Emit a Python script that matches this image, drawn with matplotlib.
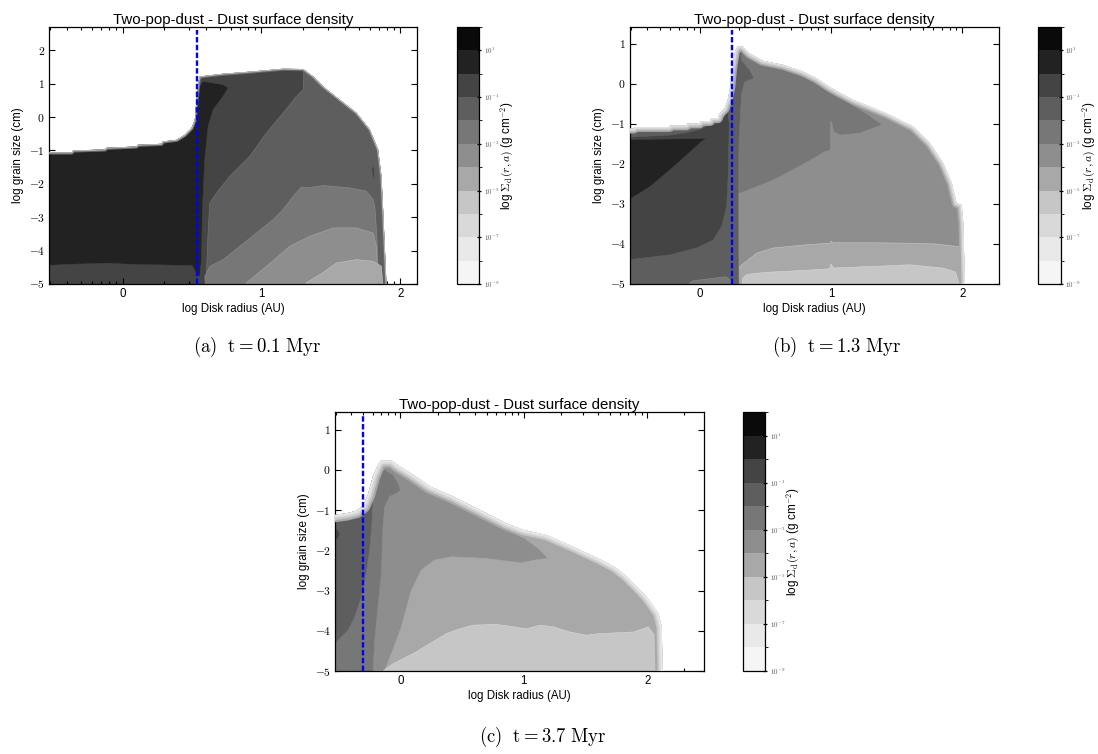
import numpy as np
import matplotlib
matplotlib.use("Agg")
import matplotlib.pyplot as plt
from matplotlib.colors import ListedColormap, BoundaryNorm
from matplotlib.cm import ScalarMappable
from matplotlib.patches import Polygon
from matplotlib.ticker import FixedLocator

plt.rcParams['font.family'] = ['Liberation Sans', 'DejaVu Sans']
plt.rcParams['mathtext.fontset'] = 'cm'

# ---------------- colour scale ----------------
LEVELS = [1e-9, 1e-8, 1e-7, 1e-6, 1e-5, 1e-4, 1e-3, 1e-2, 1e-1, 1e0, 1e1, 1e2]
BAND_COLORS = ['#f5f5f5', '#e9e9e9', '#d9d9d9', '#c6c6c6', '#a8a8a8', '#8e8e8e',
               '#777777', '#5e5e5e', '#444444', '#222222', '#0a0a0a']
CBAR_TICKS = [1e-9, 1e-7, 1e-5, 1e-3, 1e-1, 1e1]
CBAR_TICKLABELS = [r'$10^{-9}$', r'$10^{-7}$', r'$10^{-5}$', r'$10^{-3}$', r'$10^{-1}$', r'$10^{1}$']

XTICKS = [0, 1, 2]
XTICKLABELS = ['0', '1', '2']
MINOR_RADII = [0.3, 0.4, 0.5, 0.6, 0.7, 0.8, 0.9, 2, 3, 4, 5, 6, 7, 8, 9,
               20, 30, 40, 50, 60, 70, 80, 90, 200]
A_YTICKS = [-5, -4, -3, -2, -1, 0, 1, 2]
A_YTICKLABELS = [r'$-5$', r'$-4$', r'$-3$', r'$-2$', r'$-1$', r'$0$', r'$1$', r'$2$']
BC_YTICKS = [-5, -4, -3, -2, -1, 0, 1]
BC_YTICKLABELS = [r'$-5$', r'$-4$', r'$-3$', r'$-2$', r'$-1$', r'$0$', r'$1$']

CAPTIONS = [r'$\mathrm{(a)}\ \ \mathrm{t}=0.1\ \mathrm{Myr}$',
            r'$\mathrm{(b)}\ \ \mathrm{t}=1.3\ \mathrm{Myr}$',
            r'$\mathrm{(c)}\ \ \mathrm{t}=3.7\ \mathrm{Myr}$']

# ---------------- panel (a): t = 0.1 Myr ----------------
A_RSNOW = 0.535
A_ENV_SIGMA = 0.3
A_ENV_X = [-0.65, -0.528, -0.367, -0.355, -0.127, -0.115, 0.10, 0.11, 0.28, 0.29, 0.39, 0.448,
           0.496, 0.52, 0.532, 0.547, 0.556, 0.724, 0.94, 1.156, 1.30, 1.372, 1.444, 1.564,
           1.684, 1.78, 1.84, 1.864, 1.876, 1.888, 1.90]
A_ENV_Y = [-1.06, -1.06, -1.06, -1.00, -0.97, -0.92, -0.88, -0.83, -0.80, -0.73, -0.68, -0.53,
           -0.33, -0.08, 0.52, 1.07, 1.22, 1.30, 1.37, 1.45, 1.44, 1.22, 0.92, 0.52,
           0.13, -0.37, -0.97, -1.77, -2.77, -3.87, -5.0]

A_R8_SIGMA = 3e-2
A_R8_X = [0.60, 0.605, 0.615, 0.628, 0.676, 0.772, 0.916, 1.036, 1.156, 1.252, 1.30, 1.31, 2.5, 2.5]
A_R8_Y = [-5.3, -4.6, -3.5, -2.57, -2.27, -1.77, -1.17, -0.473, 0.126, 0.623, 0.823, 2.0, 2.0, -5.3]

A_R7_SIGMA = 3e-3
A_R7_X = [0.60, 0.592, 0.628, 0.724, 0.844, 0.964, 1.084, 1.156, 1.228, 1.288, 1.324, 1.444,
          1.636, 1.756, 1.804, 1.816, 1.83, 1.84, 1.85]
A_R7_Y = [-5.3, -4.77, -4.47, -4.27, -3.87, -3.47, -3.07, -2.77, -2.37, -2.09, -2.12, -2.05,
          -2.12, -2.22, -2.47, -2.67, -3.5, -4.5, -5.3]

A_R6_SIGMA = 3e-4
A_R6_X = [0.85, 0.892, 1.036, 1.204, 1.348, 1.516, 1.684, 1.804, 1.828, 1.835, 1.85]
A_R6_Y = [-5.3, -4.96, -4.47, -3.87, -3.57, -3.32, -3.32, -3.47, -3.87, -4.5, -5.3]

A_R5_SIGMA = 3e-5
A_R5_X = [1.30, 1.324, 1.444, 1.54, 1.684, 1.804, 1.864, 1.87, 1.88]
A_R5_Y = [-5.3, -4.96, -4.66, -4.37, -4.27, -4.32, -4.47, -4.8, -5.3]

A_R9_SIGMA = 0.3
A_R9_X = [1.795, 1.805, 1.815, 1.812, 1.800]
A_R9_Y = [-1.55, -1.45, -1.60, -1.85, -1.75]

A_R10_SIGMA = 3.0
A_R10_X = [-0.65, -0.3, -0.1, 0.1, 0.3, 0.45, 0.50, 0.54, 0.556, 0.568, 0.575, 0.592, 0.616,
           0.652, 0.724, 0.76, 0.724, 0.628, 0.58, 0.556, 0.53, -0.65]
A_R10_Y = [-4.46, -4.40, -4.38, -4.42, -4.43, -4.45, -4.45, -4.75, -4.77, -4.27, -2.77, -1.27,
           -0.275, 0.225, 0.623, 0.874, 0.973, 1.04, 1.07, 0.95, 2.0, 2.0]

A_STROKES = [(3.0, '#686868'), (1.6, '#9a9a9a'), (0.7, '#cfcfcf')]

# ---------------- panel (b): t = 1.3 Myr ----------------
B_RSNOW = 0.244
B_ENV_SIGMA = 3e-4
B_ENV_X = [-0.65, -0.50, -0.49, -0.23, -0.22, -0.10, -0.09, 0.00, 0.01, 0.08, 0.09, 0.14, 0.15,
           0.19, 0.215, 0.235, 0.25, 0.27, 0.29, 0.33, 0.38, 0.48, 0.64, 0.79, 0.89, 0.99, 1.043,
           1.17, 1.424, 1.627, 1.754, 1.855, 1.92, 1.957, 1.995, 2.008, 2.02]
B_ENV_Y = [-1.12, -1.12, -1.08, -1.08, -1.04, -1.04, -0.99, -0.99, -0.93, -0.93, -0.86, -0.86,
           -0.76, -0.62, -0.40, -0.07, 0.43, 0.80, 0.94, 0.925, 0.76, 0.576, 0.47, 0.30, 0.137,
           -0.08, -0.18, -0.40, -0.74, -1.07, -1.48, -1.98, -2.48, -2.98, -3.02, -3.48, -5.0]

B_R5_SIGMA = 3e-5
B_R5_X = [0.29, 0.29, 0.307, 0.434, 0.56, 0.815, 0.995, 1.0, 1.02, 1.3, 1.577, 1.8, 1.957, 2.5, 2.5]
B_R5_Y = [-5.3, -4.75, -4.56, -4.23, -4.10, -4.02, -3.98, -3.93, -3.97, -3.97, -3.98, -4.0, -4.06,
          -4.06, -5.3]

B_R4_SIGMA = 3e-6
B_R4_X = [0.32, 0.33, 0.36, 0.5, 0.8, 0.99, 1.0, 1.02, 1.4, 1.6, 1.85, 1.95, 2.0]
B_R4_Y = [-5.3, -4.85, -4.76, -4.71, -4.66, -4.62, -4.5, -4.6, -4.55, -4.52, -4.6, -4.7, -5.3]

B_R7_SIGMA = 3e-3
B_R7_X = [0.29, 0.29, 0.307, 0.434, 0.55, 0.663, 0.78, 0.891, 0.95, 0.995, 0.997, 1.005, 1.02,
          1.069, 1.22, 1.39, 1.27, 1.145, 1.043, 1.0, 1.0]
B_R7_Y = [2.0, -2.73, -2.73, -2.57, -2.42, -2.23, -2.02, -1.82, -1.70, -1.65, -0.945, -0.945,
          -1.2, -1.28, -1.23, -1.02, -0.74, -0.49, -0.24, 0.5, 2.0]

B_R8_SIGMA = 3e-2
B_R8_X = [-0.65, -0.65, 0.30, 0.32, 0.383, 0.414, 0.345, 0.32, 0.30, 0.295, 0.30]
B_R8_Y = [-5.3, 2.0, 2.0, 0.59, 0.34, 0.137, 0.05, -0.24, -1.40, -3.07, -5.3]

B_R7B_SIGMA = 3e-3
B_R7B_X = [-0.2, -0.05, 0.1, 0.2, 0.235, 0.24]
B_R7B_Y = [-5.3, -4.92, -4.86, -4.82, -4.9, -5.3]

B_R9_SIGMA = 0.3
B_R9_X = [-0.65, -0.226, -0.023, 0.104, 0.168, 0.206, 0.218, 0.226, 0.215, 0.206, 0.168, 0.104,
          0.002, -0.099, -0.226, -0.531, -0.65]
B_R9_Y = [-4.44, -4.27, -4.10, -3.90, -3.56, -3.07, -2.23, -0.985, -0.70, -0.57, -0.82, -0.985,
          -1.135, -1.22, -1.28, -1.33, -1.33]

B_R10_SIGMA = 3.0
B_R10_X = [-0.65, 0.053, 0.015, -0.099, -0.226, -0.379, -0.531, -0.65]
B_R10_Y = [-1.40, -1.36, -1.44, -1.78, -2.15, -2.57, -2.88, -2.95]

B_STROKES = [(7.0, '#a8a8a8'), (4.6, '#c6c6c6'), (2.6, '#d9d9d9'), (1.0, '#e9e9e9')]

# ---------------- panel (c): t = 3.7 Myr ----------------
C_RSNOW = -0.306
C_ENV_SIGMA = 3e-5
C_ENV_X = [-0.65, -0.533, -0.438, -0.357, -0.303, -0.263, -0.222, -0.182, -0.154, -0.141, -0.073,
           -0.006, 0.102, 0.238, 0.427, 0.643, 0.86, 0.994, 1.184, 1.40, 1.616, 1.74, 1.833, 1.93,
           1.995, 2.09, 2.117, 2.125]
C_ENV_Y = [-1.12, -1.12, -1.08, -1.02, -0.895, -0.62, -0.16, 0.127, 0.235, 0.235, 0.235, 0.085,
           -0.12, -0.41, -0.66, -0.995, -1.33, -1.49, -1.62, -1.91, -2.22, -2.42, -2.65, -2.95,
           -3.16, -3.57, -3.9, -5.0]

C_R6_SIGMA = 3e-4
C_R6_X = [-0.3, -0.222, -0.127, -0.073, 0.008, 0.089, 0.17, 0.278, 0.414, 0.684, 0.981, 1.089,
          1.197, 1.116, 1.008, 0.927, 0.9, -0.3]
C_R6_Y = [-5.3, -4.99, -4.985, -4.57, -3.9, -2.99, -2.49, -2.24, -2.16, -2.20, -2.31, -2.24,
          -2.20, -1.95, -1.70, -1.58, 2.0, 2.0]

C_R4_SIGMA = 3e-6
C_R4_X = [-0.2, -0.141, -0.06, 0.102, 0.238, 0.373, 0.481, 0.589, 0.779, 0.913, 1.022, 1.13,
          1.238, 1.373, 1.508, 1.616, 1.887, 1.968, 2.008, 2.054, 2.07, 2.08, 2.10, 2.5, 2.5]
C_R4_Y = [-5.3, -5.0, -4.82, -4.57, -4.32, -4.07, -3.95, -3.86, -3.84, -3.9, -3.95, -3.86,
          -3.9, -4.03, -4.11, -4.07, -4.03, -3.95, -3.9, -4.09, -4.15, -3.82, -3.49, -3.49, -5.3]

C_R7_SIGMA = 3e-3
C_R7_X = [-0.65, -0.65, -0.21, -0.19, -0.127, -0.06, -0.019, 0.002, -0.032, -0.087, -0.127,
          -0.141, -0.154, -0.182, -0.208, -0.222, -0.222]
C_R7_Y = [-5.3, 2.0, 2.0, 0.02, 0.0, -0.12, -0.33, -0.50, -0.58, -0.66, -0.91, -1.41, -2.57,
          -3.41, -4.24, -4.99, -5.3]

C_R8_SIGMA = 3e-2
C_R8_X = [-0.65, -0.533, -0.506, -0.425, -0.37, -0.316, -0.276, -0.249, -0.23, -0.214, -0.21, -0.65]
C_R8_Y = [-4.34, -4.34, -4.24, -3.99, -3.66, -3.16, -2.57, -1.99, -1.33, -0.414, 2.0, 2.0]

C_R9_SIGMA = 0.3
C_R9_X = [-0.65, -0.51, -0.49, -0.51, -0.65]
C_R9_Y = [-1.42, -1.48, -1.60, -1.72, -1.76]

C_STROKES = [(10.5, '#a8a8a8'), (7.5, '#c6c6c6'), (4.8, '#d9d9d9'), (2.4, '#e9e9e9')]

# ---------------- drawing ----------------
cmap = ListedColormap(BAND_COLORS)
norm = BoundaryNorm(LEVELS, ncolors=len(BAND_COLORS))
sm = ScalarMappable(norm=norm, cmap=cmap)
sm.set_array([])

fig = plt.figure(figsize=(10.98, 7.54), dpi=100)


def draw_panel(ax_rect, cax_rect, env_x, env_y, env_sigma, regions, strokes, rsnow,
               xlim, ylim, yticks, yticklabels):
    ax = fig.add_axes(ax_rect)
    cax = fig.add_axes(cax_rect)
    bottom = -5.3
    poly = np.column_stack([list(env_x) + [env_x[-1], env_x[0]],
                            list(env_y) + [bottom, bottom]])
    env = Polygon(poly, closed=True, facecolor=sm.to_rgba(env_sigma),
                  edgecolor='none', zorder=1)
    ax.add_patch(env)
    for sigma, xs, ys in regions:
        p = Polygon(np.column_stack([xs, ys]), closed=True,
                    facecolor=sm.to_rgba(sigma), edgecolor=sm.to_rgba(sigma / 10.0),
                    lw=0.4, zorder=2)
        ax.add_patch(p)
        p.set_clip_path(env)
    for lw, c in strokes:
        ln, = ax.plot(env_x, env_y, color=c, lw=lw, zorder=3,
                      solid_joinstyle='round', solid_capstyle='butt')
        ln.set_clip_path(env)
    ax.axvline(rsnow, ymin=0, ymax=0.988, color='#0000ff', lw=1.7,
               ls=(0, (2.3, 1.0)), zorder=4)

    ax.set_xlim(*xlim)
    ax.set_ylim(*ylim)
    ax.set_xticks(XTICKS)
    ax.set_xticklabels(XTICKLABELS, fontsize=8.3)
    minor = [v for v in np.log10(MINOR_RADII) if xlim[0] < v < xlim[1]]
    ax.xaxis.set_minor_locator(FixedLocator(minor))
    ax.set_yticks(yticks)
    ax.set_yticklabels(yticklabels, fontsize=8.3)
    ax.tick_params(which='both', direction='in', top=True, right=True, width=0.8)
    ax.tick_params(which='major', length=4, pad=3)
    ax.tick_params(which='minor', length=2)
    for s in ax.spines.values():
        s.set_linewidth(0.9)
    ax.set_title('Two-pop-dust - Dust surface density', fontsize=10.8, pad=2)
    ax.set_xlabel('log Disk radius (AU)', fontsize=8.3, labelpad=2)
    ax.set_ylabel('log grain size (cm)', fontsize=8.4, labelpad=3)

    cb = fig.colorbar(sm, cax=cax, ticks=CBAR_TICKS)
    cb.ax.set_yticklabels(CBAR_TICKLABELS, fontsize=5, color='#555555')
    cb.ax.tick_params(length=2.5, width=0.9, direction='inout', pad=2)
    cb.outline.set_linewidth(0.9)
    cb.set_label(r'log $\Sigma_{\rm d}(r,a)$ (g cm$^{-2}$)', fontsize=8.5, labelpad=0)
    return ax


W, H = 1098.0, 754.0


def rect(left, right, top, bottom):
    return [left / W, 1 - bottom / H, (right - left) / W, (bottom - top) / H]


A_REGIONS = [(A_R8_SIGMA, A_R8_X, A_R8_Y), (A_R7_SIGMA, A_R7_X, A_R7_Y),
             (A_R6_SIGMA, A_R6_X, A_R6_Y), (A_R5_SIGMA, A_R5_X, A_R5_Y),
             (A_R9_SIGMA, A_R9_X, A_R9_Y), (A_R10_SIGMA, A_R10_X, A_R10_Y)]
B_REGIONS = [(B_R5_SIGMA, B_R5_X, B_R5_Y), (B_R4_SIGMA, B_R4_X, B_R4_Y),
             (B_R7_SIGMA, B_R7_X, B_R7_Y), (B_R8_SIGMA, B_R8_X, B_R8_Y),
             (B_R7B_SIGMA, B_R7B_X, B_R7B_Y), (B_R9_SIGMA, B_R9_X, B_R9_Y),
             (B_R10_SIGMA, B_R10_X, B_R10_Y)]
C_REGIONS = [(C_R6_SIGMA, C_R6_X, C_R6_Y), (C_R4_SIGMA, C_R4_X, C_R4_Y),
             (C_R7_SIGMA, C_R7_X, C_R7_Y), (C_R8_SIGMA, C_R8_X, C_R8_Y),
             (C_R9_SIGMA, C_R9_X, C_R9_Y)]

draw_panel(rect(49, 417, 27, 284), rect(457, 479, 27, 284),
           A_ENV_X, A_ENV_Y, A_ENV_SIGMA, A_REGIONS, A_STROKES, A_RSNOW,
           (-0.53, 2.12), (-5, 2.70), A_YTICKS, A_YTICKLABELS)
draw_panel(rect(630, 999, 27, 284), rect(1038, 1060.5, 27, 284),
           B_ENV_X, B_ENV_Y, B_ENV_SIGMA, B_REGIONS, B_STROKES, B_RSNOW,
           (-0.53, 2.28), (-5, 1.42), BC_YTICKS, BC_YTICKLABELS)
draw_panel(rect(335, 704, 412, 671), rect(743, 765, 412, 671),
           C_ENV_X, C_ENV_Y, C_ENV_SIGMA, C_REGIONS, C_STROKES, C_RSNOW,
           (-0.53, 2.46), (-5, 1.44), BC_YTICKS, BC_YTICKLABELS)

fig.text(257 / W, 1 - 347 / H, CAPTIONS[0], fontsize=13.5, ha='center', va='center')
fig.text(837 / W, 1 - 347 / H, CAPTIONS[1], fontsize=13.5, ha='center', va='center')
fig.text(543 / W, 1 - 737 / H, CAPTIONS[2], fontsize=13.5, ha='center', va='center')

fig.savefig('out.png', dpi=100)
